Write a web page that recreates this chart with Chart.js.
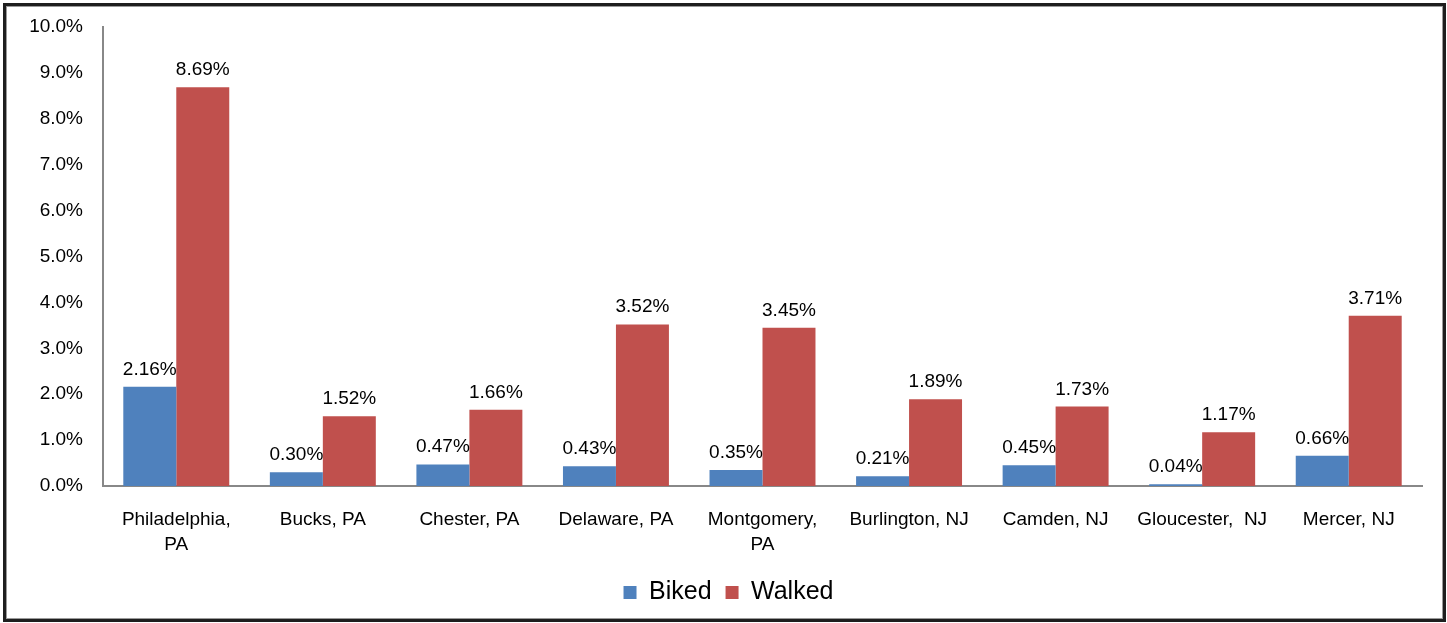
<!DOCTYPE html>
<html>
<head>
<meta charset="utf-8">
<script src="https://cdn.jsdelivr.net/npm/chart.js@4/dist/chart.umd.min.js"></script>
<style>
  html, body { margin: 0; padding: 0; background: #fff; }
  #wrap { position: relative; width: 1447px; height: 623px; }
  #frame {
    position: absolute; left: 3px; top: 3px; width: 1437px; height: 613px;
    border: 3px solid #1e1e1e;
    box-shadow: inset 0 0 0 1px #9a9a9a;
    pointer-events: none;
  }
  canvas { position: absolute; left: 0; top: 0; }
</style>
</head>
<body>
<div id="wrap">
  <canvas id="commuteChart" width="1447" height="623"></canvas>
  <div id="frame"></div>
</div>
<script>
// County labels (multi-line ones split like the original)
const counties = [
  ['Philadelphia,', 'PA'],
  'Bucks, PA',
  'Chester, PA',
  'Delaware, PA',
  ['Montgomery,', 'PA'],
  'Burlington, NJ',
  'Camden, NJ',
  'Gloucester,  NJ',
  'Mercer, NJ'
];

// Share of commuters, in percent
const biked = [2.16, 0.30, 0.47, 0.43, 0.35, 0.21, 0.45, 0.04, 0.66];
const walked = [8.69, 1.52, 1.66, 3.52, 3.45, 1.89, 1.73, 1.17, 3.71];

// Y axis range
const yMin = 0;
const yMax = 10;
const yStep = 1;

const FONT = '"Liberation Sans", Arial, sans-serif';

Chart.defaults.color = '#000';
Chart.defaults.font.family = FONT;

// Draw the value above every bar
const barLabels = {
  id: 'barLabels',
  afterDatasetsDraw(chart) {
    const ctx = chart.ctx;
    ctx.save();
    ctx.font = '19px ' + FONT;
    ctx.fillStyle = '#000';
    ctx.textAlign = 'center';
    ctx.textBaseline = 'alphabetic';
    chart.data.datasets.forEach((ds, i) => {
      chart.getDatasetMeta(i).data.forEach((bar, j) => {
        ctx.fillText(ds.data[j].toFixed(2) + '%', bar.x, bar.y - 12);
      });
    });
    ctx.restore();
  }
};

const ctx = document.getElementById('commuteChart').getContext('2d');
new Chart(ctx, {
  type: 'bar',
  data: {
    labels: counties,
    datasets: [
      {
        label: 'Biked',
        data: biked,
        backgroundColor: '#4F81BD',
        borderWidth: 0
      },
      {
        label: 'Walked',
        data: walked,
        backgroundColor: '#C0504D',
        borderWidth: 0
      }
    ]
  },
  options: {
    responsive: false,
    animation: false,
    layout: {
      padding: { left: 10, right: 0, top: 27, bottom: 8 }
    },
    datasets: {
      bar: { categoryPercentage: 0.723, barPercentage: 1.0 }
    },
    scales: {
      x: {
        grid: { display: false, drawTicks: false },
        border: { display: true, color: '#888', width: 2 },
        ticks: {
          font: { size: 19, lineHeight: 1.32 },
          color: '#000',
          padding: 21,
          maxRotation: 0,
          autoSkip: false
        },
        afterFit(scale) { scale.height = 80; }
      },
      y: {
        min: yMin,
        max: yMax,
        grid: { display: false, drawTicks: false },
        border: { display: true, color: '#888', width: 2 },
        ticks: {
          stepSize: yStep,
          font: { size: 19 },
          color: '#000',
          padding: 20,
          callback: v => v.toFixed(1) + '%'
        },
        afterFit(scale) {
          scale.width = 93;
          scale.paddingTop = 0;
          scale.paddingBottom = 0;
        }
      },
      // empty spacer on the right so the plot ends where the original does
      spacer: {
        position: 'right',
        grid: { display: false, drawTicks: false },
        border: { display: false },
        ticks: { display: false },
        afterFit(scale) {
          scale.width = 25;
          scale.paddingTop = 0;
          scale.paddingBottom = 0;
        }
      }
    },
    plugins: {
      legend: {
        position: 'bottom',
        labels: {
          font: { size: 25 },
          color: '#000',
          boxWidth: 13,
          boxHeight: 13,
          padding: 14
        }
      },
      tooltip: { enabled: false }
    }
  },
  plugins: [barLabels]
});
</script>
</body>
</html>
